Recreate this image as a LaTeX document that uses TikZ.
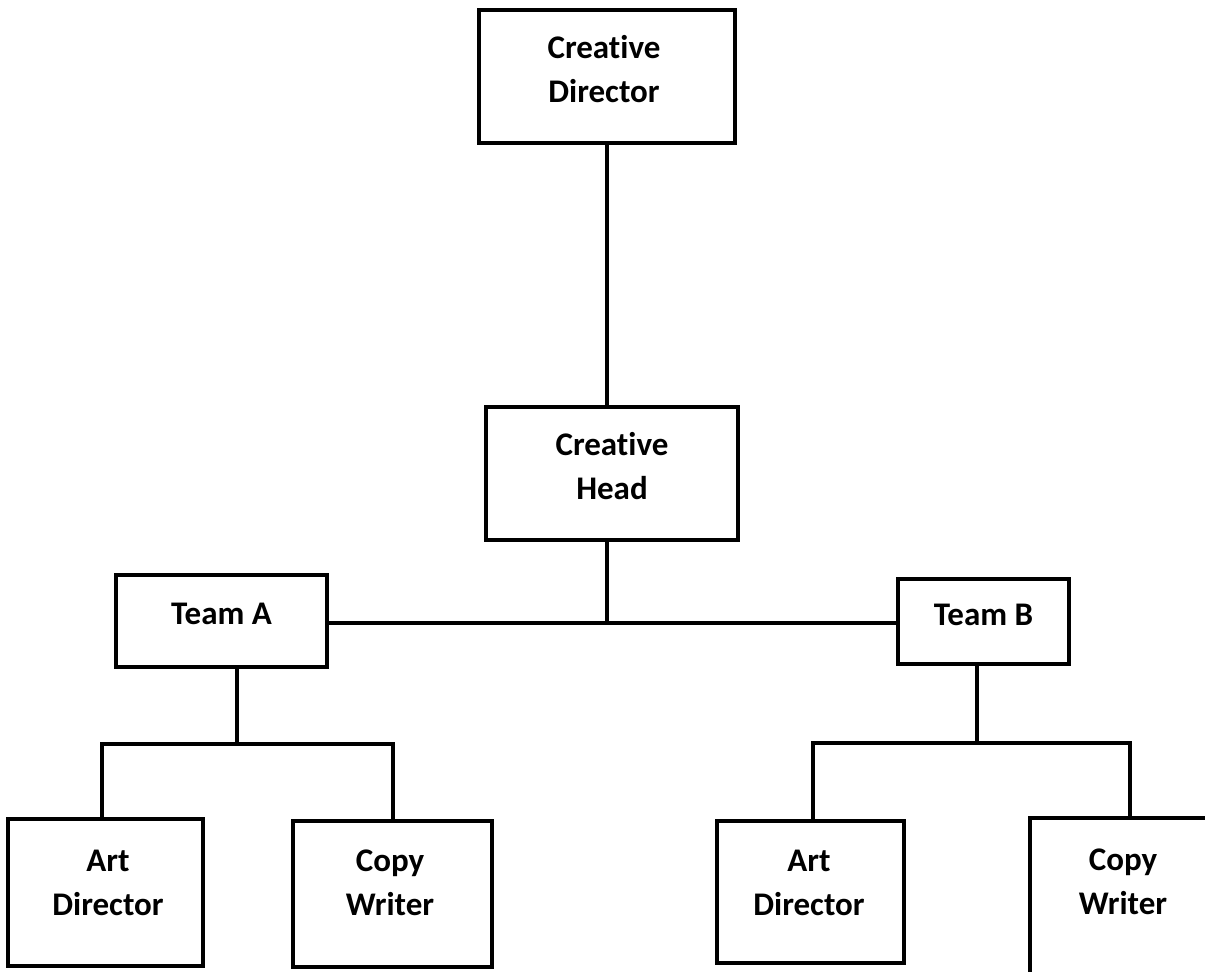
\documentclass[tikz,border=0pt]{standalone}
\usepackage{fontspec}
\setmainfont{Carlito}[Ligatures={NoCommon}]
\begin{document}
\begin{tikzpicture}[x=1pt,y=-1pt,
  box/.style={draw=black, line width=3.8pt, rectangle, inner sep=0pt, fill=none},
  txt/.style={font=\fontsize{33}{44}\selectfont\bfseries, align=center, yshift=7pt, inner sep=0pt},
  conn/.style={draw=black, line width=3.8pt}]
\useasboundingbox (0,0) rectangle (1205,972);
\clip (0,0) rectangle (1205,972);
% boxes
\node[box, minimum width=256pt, minimum height=133pt] (cd) at (607,76.5) {};
\node[box, minimum width=252pt, minimum height=133pt] (ch) at (612,473.5) {};
\node[box, minimum width=211pt, minimum height=92pt] (ta) at (221.5,621) {};
\node[box, minimum width=171pt, minimum height=85pt] (tb) at (983.5,621.5) {};
\node[box, minimum width=195pt, minimum height=147pt] (ad1) at (105.5,892.5) {};
\node[box, minimum width=199pt, minimum height=146pt] (cw1) at (392.5,894) {};
\node[box, minimum width=187pt, minimum height=142pt] (ad2) at (810.5,892) {};
\node[box, minimum width=200pt, minimum height=184pt] (cw2) at (1130,910) {};
% texts
\node[txt] (tcd) at (604,76.5) {Creative\\Director};
\node[txt] (tch) at (612,473.5) {Creative\\Head};
\node[txt] (tta) at (221.5,621) {Team A};
\node[txt] (ttb) at (983.5,621.5) {Team B};
\node[txt] (tad1) at (108,890) {Art\\Director};
\node[txt] (tcw1) at (390,890) {Copy\\Writer};
\node[txt] (tad2) at (809,890) {Art\\Director};
\node[txt] (tcw2) at (1123,889) {Copy\\Writer};
% junctions
\coordinate (hub) at (607,623);
\coordinate (ja) at (237,744);
\coordinate (la) at (102,744);
\coordinate (ra) at (393,744);
\coordinate (jb) at (977,743);
\coordinate (lb) at (813,743);
\coordinate (rb) at (1130,743);
% connectors
\draw[conn] (cd.south) -- (cd.south |- ch.north);
\draw[conn] (hub |- ch.south) -- (hub);
\draw[conn] (ta.east |- hub) -- (tb.west |- hub);
\draw[conn] (ja |- ta.south) -- (ja);
\draw[conn] (la |- ad1.north) -- (la) -- (ra) -- (ra |- cw1.north);
\draw[conn] (jb |- tb.south) -- (jb);
\draw[conn] (lb |- ad2.north) -- (lb) -- (rb) -- (rb |- cw2.north);
\end{tikzpicture}
\end{document}
